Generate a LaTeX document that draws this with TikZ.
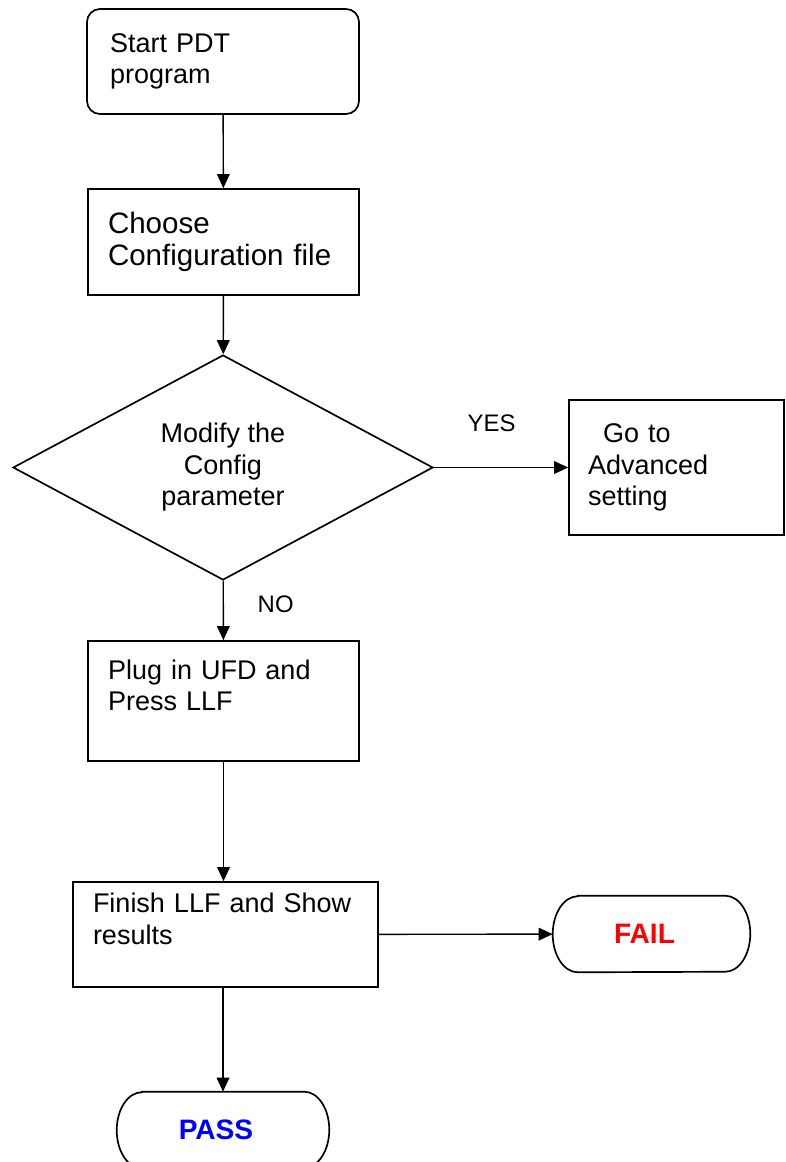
\documentclass[tikz,border=0pt]{standalone}
\usepackage{fontspec}
\setmainfont{Liberation Sans}
\usepackage{tikz}
\newlength{\px}
\setlength{\px}{0.025cm}
\newcommand{\bodyfont}{\fontsize{19.2pt}{22.4pt}\selectfont}
\newcommand{\choosefont}{\fontsize{21pt}{22.6pt}\selectfont}
\newcommand{\termfont}{\fontsize{20pt}{24pt}\selectfont\bfseries}
\newcommand{\lblfont}{\fontsize{17pt}{20pt}\selectfont}
% outline of a terminal node, with elliptic ends
\newcommand{\termline}[1]{%
  \draw[line width=1.2pt] ([xshift=0.625cm]#1.north west) -- ([xshift=-0.625cm]#1.north east)
    arc[start angle=90,end angle=-90,x radius=0.625cm,y radius=0.95cm]
    -- ([xshift=0.625cm]#1.south west)
    arc[start angle=270,end angle=90,x radius=0.625cm,y radius=0.95cm] -- cycle;}
\definecolor{failRed}{RGB}{255,0,0}
\definecolor{passBlue}{RGB}{0,0,255}
\usetikzlibrary{arrows.meta,shapes.geometric}
\tikzset{
  >={Triangle[length=10pt,width=9pt]},
  font=\bodyfont,
  rect/.style={draw,shape=rectangle,line width=1.2pt,inner xsep=20*\px,inner ysep=0pt,align=left},
  decision/.style={draw,shape=diamond,line width=1.2pt,minimum width=420*\px,minimum height=225*\px,inner sep=0pt,align=center},
  term/.style={shape=rectangle,minimum height=76*\px,inner sep=0pt,font=\termfont},
  lbl/.style={inner sep=0pt,font=\lblfont},
  line/.style={draw,->,line width=1pt},
}
\begin{document}
\begin{tikzpicture}[x=0.025cm,y=-0.025cm]
  \useasboundingbox (0,0) rectangle (785,1162);
  \node (start) [rect,rounded corners=13*\px,inner xsep=23*\px,text width=226*\px,minimum height=105*\px] at (223,61.5) {Start PDT\\program};
  \node (choose) [rect,font=\choosefont,text width=231*\px,minimum height=106*\px] at (223.5,242) {Choose\\Configuration file};
  \node (modify) [decision] at (223,467.5) {Modify the\\Config\\parameter};
  \node (advanced) [rect,inner xsep=19*\px,text width=177*\px,minimum height=135*\px] at (676.5,467.5) {\hspace*{15\px}Go to\\Advanced\\setting};
  \node (plug) [rect,text width=231*\px,minimum height=120*\px] at (223.5,701) {Plug in UFD and\\Press LLF\\\mbox{}};
  \node (finish) [rect,text width=265*\px,minimum height=105*\px] at (225.5,934.5) {Finish LLF and Show\\results\\\mbox{}};
  \node (fail) [term,text=failRed,minimum width=197*\px] at (651.5,934) {FAIL\hspace*{14\px}};
  \node (pass) [term,text=passBlue,minimum width=212*\px] at (223,1130) {PASS\hspace*{14\px}};
  \termline{fail}
  \termline{pass}
  % flow
  \path [line] (start) -- (choose);
  \path [line] (choose) -- (modify);
  \path [line] (modify) -- (advanced) node[lbl,pos=0.43,above=25pt]{YES};
  \path [line] (modify) -- (plug) node[lbl,pos=0.39,right=24pt]{NO};
  \path [line] (plug) -- (plug |- finish.north);
  \path [line] (finish) -- (fail);
  \path [line] (finish.south -| pass.north) -- (pass);
\end{tikzpicture}
\end{document}
